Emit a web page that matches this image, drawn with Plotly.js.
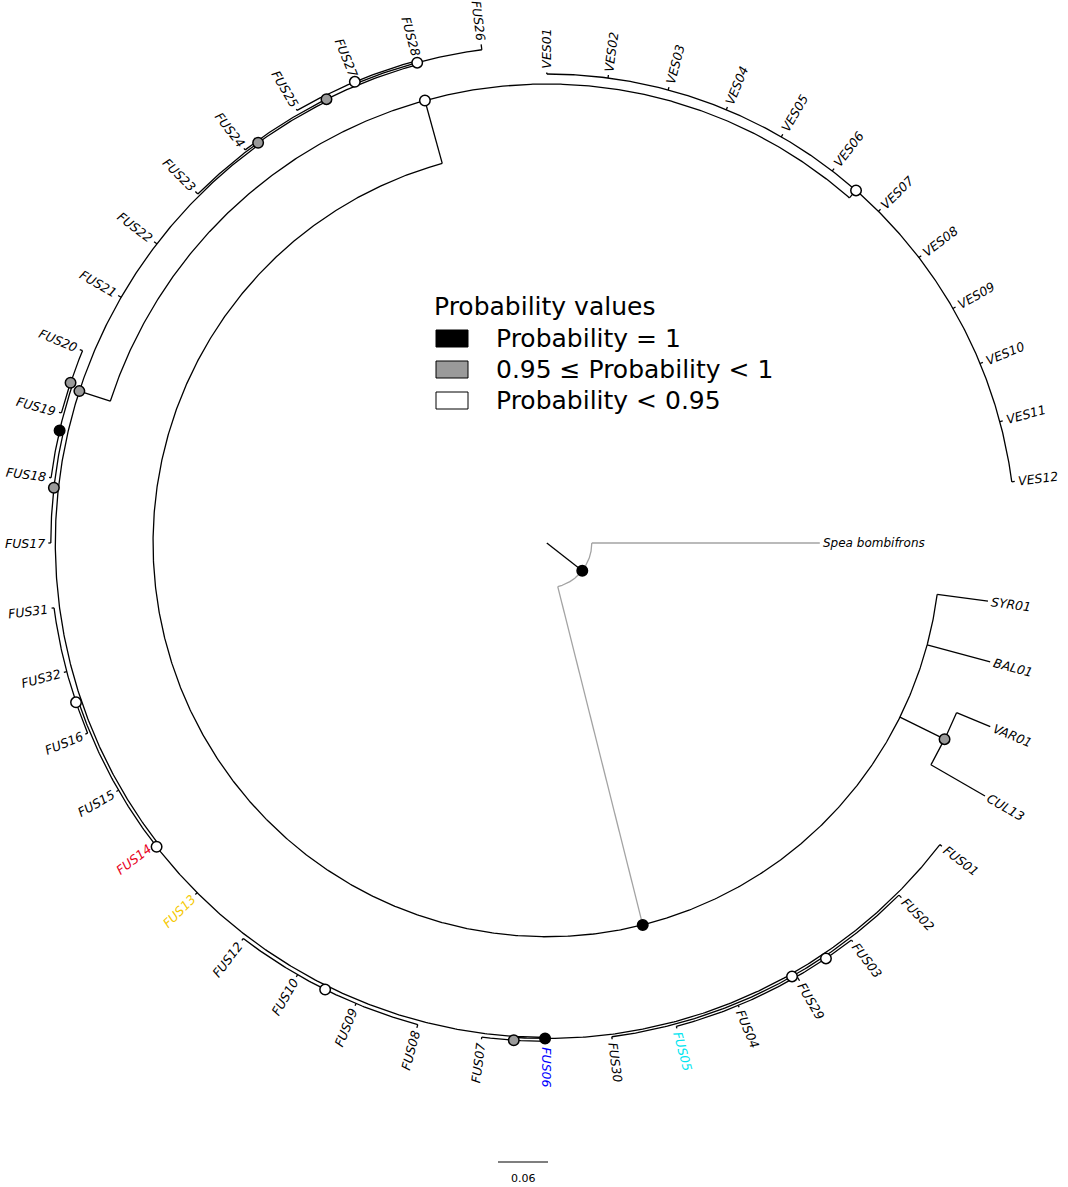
<!DOCTYPE html>
<html><head><meta charset="utf-8">
<script src="https://cdn.plot.ly/plotly-3.0.1.min.js"></script>
<style>html,body{margin:0;padding:0;background:#fff;}#chart{width:1068px;height:1187px;}</style>
</head><body><div id="chart"></div>
<script>
// ---------------- DATA ----------------
// Leaves in circular order (each leaf is one 360/48 degree step, clockwise from east)
const leafNames = ["Spea bombifrons","SYR01","BAL01","VAR01","CUL13",
  "FUS01","FUS02","FUS03","FUS29","FUS04","FUS05","FUS30","FUS06","FUS07","FUS08","FUS09","FUS10","FUS12","FUS13","FUS14","FUS15","FUS16","FUS32","FUS31","FUS17","FUS18","FUS19","FUS20","FUS21","FUS22","FUS23","FUS24","FUS25","FUS27","FUS28","FUS26",
  "VES01","VES02","VES03","VES04","VES05","VES06","VES07","VES08","VES09","VES10","VES11","VES12"];
// distance from root (substitutions/site)
const leafDepth = [0.3276,0.534,0.5508,0.576,0.6072,
  0.5976,0.6018,0.603,0.6066,0.603,0.603,0.6006,0.6006,0.6006,0.6024,0.6012,0.6012,0.6012,0.5964,0.5964,0.5964,0.5994,0.6,0.5994,0.5982,0.6024,0.606,0.6066,0.594,0.594,0.5964,0.597,0.6012,0.6018,0.6012,0.6036,
  0.5646,0.5664,0.5664,0.5664,0.5664,0.5664,0.5664,0.5664,0.5664,0.5664,0.5664,0.5664];
const leafParent = ["root","G","G","VC","VC",
  "PB","P29","P03","P03","P03","P03","P29","PG","PG","P10","P10","P10","P10","P14","P14","P14","P32","P32","P32","H","F","E","E","L","L","D","C","B","B","B","A",
  "V","V","V","V","V","V","V","V","V","V","V","V"];
const leafLabelColor = {"FUS14":"#e8001c","FUS13":"#f5c800","FUS06":"#0000ff","FUS05":"#00e5f0"};

// Internal nodes
const nodeNames   = ["root","G","VC","W1","V","L","H","F","E","D","C","A","B","P14","P32","P10","PB","PG","P29","P03"];
const nodeParent  = [null,"root","G","G","W1","W1","L","H","F","L","D","C","A","L","P14","P14","P14","PB","PB","P29"];
const nodeDepth   = [0.054,0.4725,0.5322,0.5508,0.5628,0.5898,0.5952,0.6,0.603,0.5922,0.5946,0.597,0.5994,0.5934,0.5964,0.5982,0.5946,0.598,0.5976,0.6006];
const nodeAngle   = [37.95,75.9,26.25,254.6,311.25,198,186.4,193,198.6,234.2,243.6,254.9,247.4,142.1,161.3,116.4,90.2,93.8,60.5,56.1];
const nodeSupport = ["p1","p1","p95","low","low","p95","p95","p1","p95","p95","p95","low","low","low","low","low","p1","p95","low","low"];

const supportClasses = ["p1","p95","low"];
const supportLabels  = ["Probability = 1","0.95 \u2264 Probability < 1","Probability < 0.95"];
const supportColors  = ["#000000","#9a9a9a","#ffffff"];
const legendTitle = "Probability values";

const scaleBarValue = 0.06;
const scaleBarLabel = "0.06";

// ---------------- LAYOUT / GEOMETRY ----------------
const W = 1068, H = 1187;
const K = 50 / scaleBarValue;     // px per tree unit
const CX = 546.8, CY = 543;       // tree centre in px
const xr = [-CX / K, (W - CX) / K];
const yr = [(CY - H) / K, CY / K];
const D2R = Math.PI / 180;
const step = 360 / leafNames.length;

const nodeIdx = {}; nodeNames.forEach((n, i) => nodeIdx[n] = i);
const leafAngle = leafNames.map((_, i) => i * step);
const pos = (r, a) => [r * Math.cos(a * D2R), -r * Math.sin(a * D2R)];

// children angles for arcs
const childAngles = nodeNames.map(() => []);
leafParent.forEach((p, i) => childAngles[nodeIdx[p]].push(leafAngle[i]));
nodeParent.forEach((p, i) => { if (p) childAngles[nodeIdx[p]].push(nodeAngle[i]); });

const black = {x: [], y: []}, grey = {x: [], y: []};
function seg(tr, r0, r1, a) {
  const p0 = pos(r0, a), p1 = pos(r1, a);
  tr.x.push(p0[0], p1[0], null); tr.y.push(p0[1], p1[1], null);
}
function arc(tr, r, a0, a1) {
  const n = Math.max(2, Math.ceil((a1 - a0) / 0.25) + 1);
  for (let j = 0; j < n; j++) {
    const p = pos(r, a0 + (a1 - a0) * j / (n - 1));
    tr.x.push(p[0]); tr.y.push(p[1]);
  }
  tr.x.push(null); tr.y.push(null);
}
// internal node stems + arcs
nodeNames.forEach((n, i) => {
  const p = nodeParent[i];
  const r0 = p ? nodeDepth[nodeIdx[p]] : 0;
  seg(p === "root" ? grey : black, r0, nodeDepth[i], nodeAngle[i]);
  const ca = childAngles[i].concat([nodeAngle[i]]);
  arc(n === "root" ? grey : black, nodeDepth[i], Math.min(...ca), Math.max(...ca));
});
// leaf stems
leafNames.forEach((n, i) => {
  const p = leafParent[i];
  seg(p === "root" ? grey : black, nodeDepth[nodeIdx[p]], leafDepth[i], leafAngle[i]);
});

const traces = [
  {type: "scatter", mode: "lines", x: grey.x, y: grey.y, line: {color: "#a3a3a3", width: 1.3}, hoverinfo: "skip", showlegend: false},
  {type: "scatter", mode: "lines", x: black.x, y: black.y, line: {color: "#000", width: 1.3}, hoverinfo: "skip", showlegend: false}
];
supportClasses.forEach((c, k) => {
  const xs = [], ys = [];
  nodeNames.forEach((n, i) => { if (nodeSupport[i] === c) { const p = pos(nodeDepth[i], nodeAngle[i]); xs.push(p[0]); ys.push(p[1]); } });
  traces.push({type: "scatter", mode: "markers", x: xs, y: ys, name: supportLabels[k],
    marker: {size: 10.5, color: supportColors[k], line: {color: "#000", width: 1.5}}, hoverinfo: "skip", showlegend: false});
});
// scale bar
const sbX0 = (498 - CX) / K, sbY = (CY - 1162) / K;
traces.push({type: "scatter", mode: "lines", x: [sbX0, sbX0 + scaleBarValue], y: [sbY, sbY],
  line: {color: "#000", width: 1.2}, hoverinfo: "skip", showlegend: false});

// leaf labels
const ctx = document.createElement("canvas").getContext("2d");
const FONT = "DejaVu Sans";
function textW(s, size) { ctx.font = "italic " + size + "px '" + FONT + "'"; return ctx.measureText(s).width; }
const annotations = [];
leafNames.forEach((n, i) => {
  const size = (i === 0) ? 12 : 12.5;
  const a = leafAngle[i];
  const w = textW(n, size);
  const rl = leafDepth[i] + (3.5 + w / 2) / K;
  const p = pos(rl, a);
  let an = a >= 270 ? a - 360 : a;
  const ta = (an > 90) ? an - 180 : an;
  annotations.push({x: p[0], y: p[1], xref: "x", yref: "y", text: "<i>" + n + "</i>", showarrow: false,
    textangle: ta, xanchor: "center", yanchor: "middle", borderpad: 0,
    font: {family: FONT, size: size, color: leafLabelColor[n] || "#000"}});
});
// scale label
annotations.push({x: sbX0 + scaleBarValue / 2, y: (CY - 1178) / K, xref: "x", yref: "y", text: scaleBarLabel,
  showarrow: false, xanchor: "center", yanchor: "middle", font: {family: FONT, size: 11, color: "#000"}});

// legend (paper coords from px)
const px = v => v / W, py = v => 1 - v / H;
annotations.push({x: px(432), y: py(307), xref: "paper", yref: "paper", text: legendTitle, showarrow: false,
  xanchor: "left", yanchor: "middle", font: {family: FONT, size: 25, color: "#000"}});
const shapes = [];
const rowY = [338.5, 369.5, 400.5];
supportClasses.forEach((c, k) => {
  shapes.push({type: "rect", xref: "paper", yref: "paper", x0: px(436), x1: px(468), y0: py(rowY[k] - 8.5), y1: py(rowY[k] + 8.5),
    fillcolor: supportColors[k], line: {color: "#000", width: 1}});
  annotations.push({x: px(494), y: py(rowY[k]), xref: "paper", yref: "paper", text: supportLabels[k], showarrow: false,
    xanchor: "left", yanchor: "middle", font: {family: FONT, size: 25, color: "#000"}});
});

const layout = {
  width: W, height: H, margin: {l: 0, r: 0, t: 0, b: 0, pad: 0},
  paper_bgcolor: "#fff", plot_bgcolor: "#fff", showlegend: false,
  xaxis: {range: xr, visible: false, fixedrange: true},
  yaxis: {range: yr, visible: false, fixedrange: true},
  annotations: annotations, shapes: shapes
};
Plotly.newPlot("chart", traces, layout, {displayModeBar: false, staticPlot: true});
</script></body></html>
